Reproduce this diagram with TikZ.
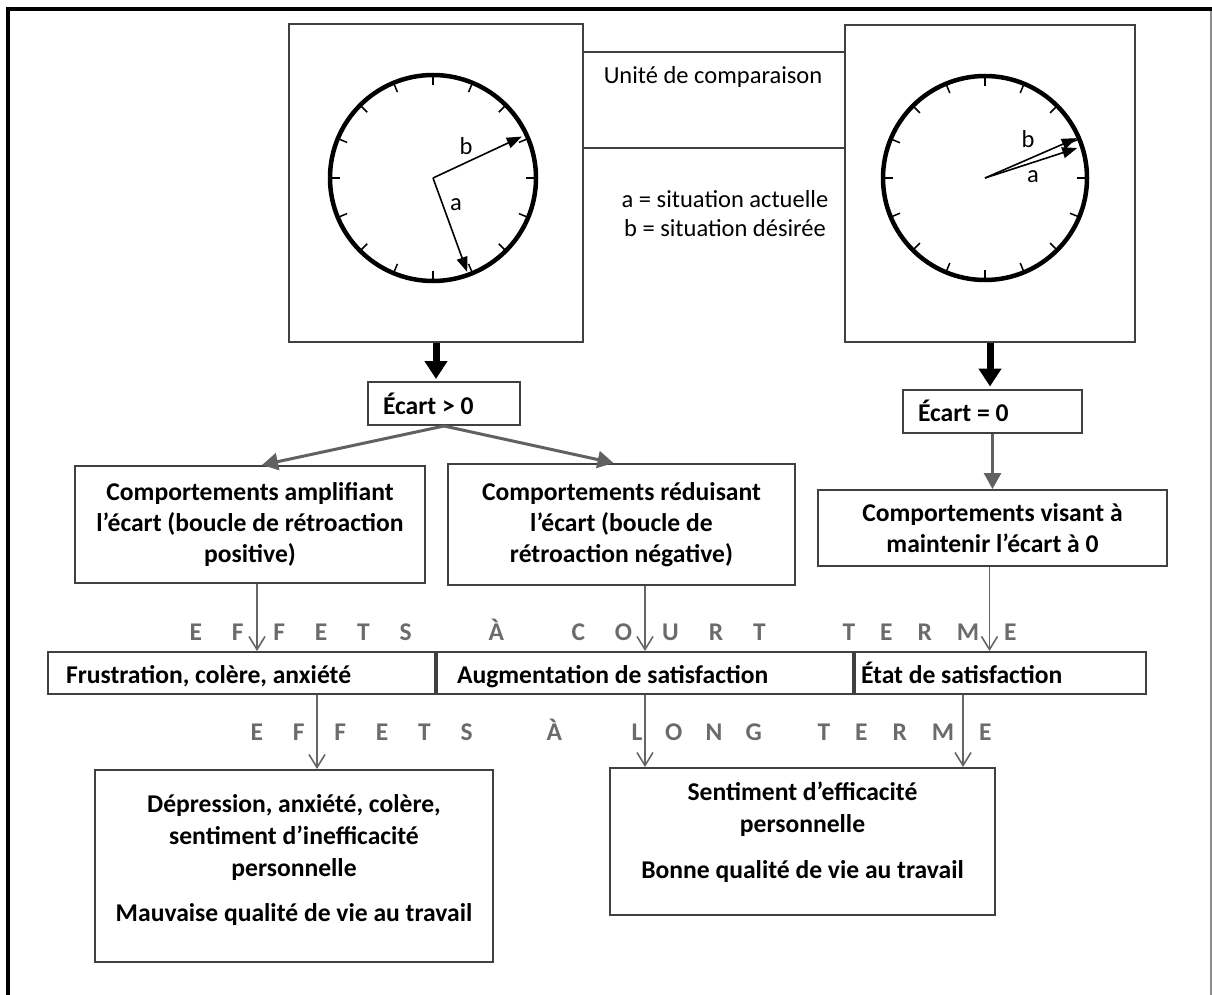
\documentclass[tikz,border=0pt]{standalone}
\usepackage{fontspec}
\setmainfont{Carlito}
\usepackage{tikz}
\usetikzlibrary{positioning}
\usetikzlibrary{arrows.meta,calc}

\begin{document}
\begin{tikzpicture}[x=1pt,y=-1pt,
		every node/.style={font=\fontsize{24.5}{29}\selectfont},
		box/.style={draw=black!75,line width=2pt,align=center,inner sep=0pt,
			font=\fontsize{25.6}{31}\selectfont\bfseries},
		smallbox/.style={box,align=flush left,inner xsep=15pt,minimum height=43pt},
		cell/.style={box,align=flush left,minimum height=42pt,text height=22pt,text depth=2pt},
		bigarrow/.style={-{Triangle[length=18pt,width=22pt]},line width=7pt,shorten >=2pt},
		grayarrow/.style={-{Triangle[length=16pt,width=17pt]},line width=3pt,draw=black!62},
		thinarrow/.style={-{Straight Barb[length=13pt,width=16pt]},line width=1.6pt,draw=black!60},
		spaced/.style={anchor=base west,text=black!58,
			font=\fontsize{25.5}{29}\selectfont\bfseries\addfontfeature{LetterSpace=#1}},
		clockhand/.style={-{Triangle[length=15pt,width=11pt]},line width=1.6pt},
		clocktick/.style={line width=1.5pt}]
		\useasboundingbox (0,0) rectangle (1212,995);
		\draw[line width=4.5pt] (8,995) -- (8,9) -- (1212,9);
		\draw[line width=1.5pt,black!45] (1211,11) -- (1211,995);
		
		% clocks
		\node[box,minimum width=294pt,minimum height=318pt] (clock_l) at (436,183) {};
		\node[box,minimum width=290pt,minimum height=317pt] (clock_r) at (990,183.5) {};
		\node[box,minimum width=262pt,minimum height=96pt] (unit) at (714,100) {};
		\node (unit_txt) at (713,77) {Unité de comparaison};
		\node[align=center] (legend) at (725,214) {a = situation actuelle\\b = situation désirée};
		
		\coordinate (c_l) at (433,178);
		\coordinate (c_r) at (985,178);
		\draw[line width=4.5pt] (c_l) circle[radius=103];
		\draw[line width=4.5pt] (c_r) circle[radius=102];
		\foreach \t in {0,22.5,...,337.5} {
			\draw[clocktick] ($(c_l)+(\t:93)$) -- ($(c_l)+(\t:103)$);
			\draw[clocktick] ($(c_r)+(\t:92)$) -- ($(c_r)+(\t:102)$);
		}
		\draw[clockhand] (c_l) -- ($(c_l)+(-25:98)$);
		\draw[clockhand] (c_l) -- ($(c_l)+(70:100)$);
		\node (b_l) at (466,146) {b};
		\node (a_l) at (456,205) {a};
		\draw[clockhand] (c_r) -- ($(c_r)+(-23.5:100)$);
		\draw[clockhand] (c_r) -- ($(c_r)+(-18:97)$);
		\node (b_r) at (1028,139) {b};
		\node (a_r) at (1033,177) {a};
		
		% gaps
		\node[smallbox,text width=122pt] (ecart_pos) at (444,403.5) {Écart > 0};
		\node[smallbox,text width=149pt] (ecart_zero) at (992.5,411) {Écart = 0};
		
		\node[box,minimum width=350pt,minimum height=117pt] (amplif) at (250,524.5)
			{Comportements amplifiant\\l’écart (boucle de rétroaction\\positive)};
		\node[box,minimum width=347pt,minimum height=121pt] (reduc) at (621.5,524.5)
			{Comportements réduisant\\l’écart (boucle de\\rétroaction négative)};
		\node[box,minimum width=349pt,minimum height=76pt] (maint) at (992.5,528)
			{Comportements visant à\\maintenir l’écart à 0};
		
		% short term
		\node[spaced=117] (st_1) at (186,640) {EFFETS};
		\node[spaced=117] (st_2) at (485,640) {À};
		\node[spaced=118] (st_3) at (568,640) {COURT};
		\node[spaced=98] (st_4) at (839,640) {TERME};
		\node[cell,text width=351pt,inner xsep=18pt] (frust) at (241.5,673) {Frustration, colère, anxiété};
		\node[cell,text width=376pt,inner xsep=20pt,right=0pt of frust] (augm) {Augmentation de satisfaction};
		\node[cell,text width=279pt,inner xsep=6pt,right=0pt of augm] (etat) {État de satisfaction};
		
		% long term
		\node[spaced=117] (lt_1) at (247,740) {EFFETS};
		\node[spaced=117] (lt_2) at (543,740) {À};
		\node[spaced=91] (lt_3) at (628,740) {LONG};
		\node[spaced=98] (lt_4) at (814,740) {TERME};
		\node[box,minimum width=398pt,minimum height=192pt] (long_bad) at (294,866) {};
		\node[align=center,font=\fontsize{25.6}{32}\selectfont\bfseries] (long_bad_txt) at (294,860)
			{Dépression, anxiété, colère,\\sentiment d’inefficacité\\personnelle\\[13pt]Mauvaise qualité de vie au travail};
		\node[box,minimum width=385pt,minimum height=147pt] (long_good) at (802.5,841.5) {};
		\node[align=center,font=\fontsize{25.6}{32}\selectfont\bfseries] (long_good_txt) at (802.5,832)
			{Sentiment d’efficacité\\personnelle\\[14pt]Bonne qualité de vie au travail};
		
		\draw[bigarrow] (clock_l.south) -- (clock_l.south |- ecart_pos.north);
		\draw[bigarrow] (clock_r.south) -- (clock_r.south |- ecart_zero.north);
		
		\path
		(ecart_pos.south) edge[grayarrow] ([xshift=12pt]amplif.north)
		                  edge[grayarrow] ([xshift=-8pt]reduc.north)
		(ecart_zero.south) edge[grayarrow] (ecart_zero.south |- maint.north);
		
		\coordinate (fb) at ([xshift=23pt]frust.south -| long_bad.north);
		\coordinate (gb) at ([xshift=-33pt]long_good.north east);
		\path
		([xshift=7pt]amplif.south) edge[thinarrow] ([xshift=7pt]amplif.south |- frust.north)
		(reduc.south -| augm.north) edge[thinarrow] (augm.north)
		([xshift=-3pt]maint.south) edge[thinarrow] ([xshift=-3pt]maint.south |- etat.north)
		(fb) edge[thinarrow] (fb |- long_bad.north)
		(augm.south) edge[thinarrow] (augm.south |- long_good.north)
		(gb |- etat.south) edge[thinarrow] (gb);
	\end{tikzpicture}
\end{document}
